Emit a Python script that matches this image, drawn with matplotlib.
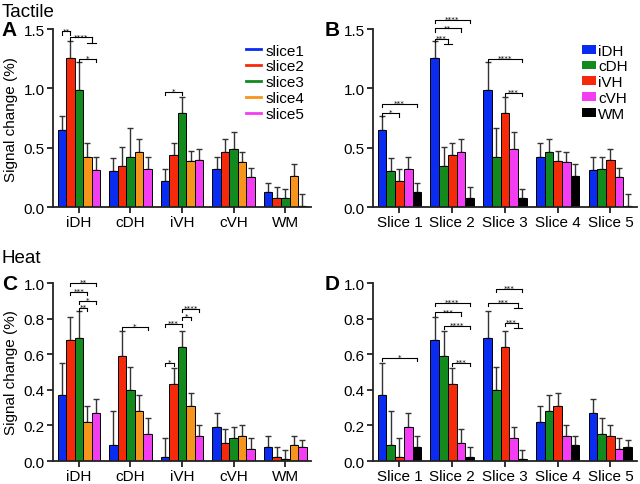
import matplotlib
matplotlib.use('Agg')
import matplotlib.pyplot as plt
from matplotlib.lines import Line2D
from matplotlib.patches import Patch
import numpy as np

plt.rcParams['font.family'] = ['Liberation Sans', 'DejaVu Sans']

# Data: rows are regions, columns are slices
regions = ['iDH', 'cDH', 'iVH', 'cVH', 'WM']
slices = ['slice1', 'slice2', 'slice3', 'slice4', 'slice5']
slice_ticks = ['Slice 1', 'Slice 2', 'Slice 3', 'Slice 4', 'Slice 5']

tactile_mean = [[0.65, 1.26, 0.99, 0.42, 0.31],
                [0.30, 0.35, 0.42, 0.46, 0.32],
                [0.22, 0.44, 0.79, 0.39, 0.40],
                [0.32, 0.46, 0.49, 0.38, 0.25],
                [0.13, 0.08, 0.08, 0.26, 0.01]]
tactile_err = [[0.12, 0.14, 0.23, 0.12, 0.11],
               [0.11, 0.16, 0.25, 0.11, 0.10],
               [0.10, 0.10, 0.14, 0.08, 0.09],
               [0.10, 0.11, 0.14, 0.08, 0.08],
               [0.07, 0.09, 0.07, 0.10, 0.10]]
heat_mean = [[0.37, 0.68, 0.69, 0.22, 0.27],
             [0.09, 0.59, 0.40, 0.28, 0.15],
             [0.02, 0.43, 0.64, 0.31, 0.14],
             [0.19, 0.10, 0.13, 0.14, 0.07],
             [0.08, 0.02, 0.01, 0.09, 0.08]]
heat_err = [[0.18, 0.13, 0.15, 0.09, 0.08],
            [0.19, 0.14, 0.13, 0.09, 0.09],
            [0.11, 0.09, 0.09, 0.07, 0.06],
            [0.08, 0.08, 0.06, 0.06, 0.06],
            [0.06, 0.06, 0.05, 0.05, 0.04]]

slice_colors = ['#0a2cf0', '#f52a0a', '#138a1e', '#f7941d', '#f23df2']
region_colors = ['#0a2cf0', '#138a1e', '#f52a0a', '#f23df2', '#000000']

# significance brackets: (group, bar from, bar to, y, stars, tail)
brackets_a = [(0, 0, 1, 1.48, '**', False), (0, 1, 3.5, 1.43, '****', True),
              (0, 2, 4, 1.25, '*', False), (2, 0, 2, 0.97, '*', False)]
brackets_b = [(0, 0, 2, 0.79, '*', False), (0, 0, 4, 0.87, '***', False),
              (1, 0, 1.5, 1.42, '***', True), (1, 0, 3, 1.505, '**', False),
              (1, 0, 4, 1.58, '****', False), (2, 0, 4, 1.25, '****', False),
              (2, 2, 4, 0.96, '***', False)]
brackets_c = [(0, 1, 4, 1.0, '**', False), (0, 1, 3, 0.948, '***', False),
              (0, 2, 4, 0.90, '*', False), (0, 2, 3, 0.86, '**', False),
              (1, 1, 4, 0.755, '*', False), (2, 0, 1, 0.55, '*', False),
              (2, 0, 2, 0.77, '***', False), (2, 2, 3, 0.81, '*', False),
              (2, 2, 4, 0.855, '****', False)]
brackets_d = [(0, 0, 4, 0.58, '*', False), (1, 0, 4, 0.89, '****', False),
              (1, 0, 3, 0.835, '***', False), (1, 1, 4, 0.76, '****', False),
              (1, 2, 4, 0.55, '***', False), (2, 1, 4, 0.966, '***', False),
              (2, 0, 3.5, 0.89, '***', True), (2, 2, 3.5, 0.775, '***', True)]

BAR_W = 0.165
FS = 11


def draw_bars(ax, mean, err, colors, transpose=False):
    m = np.array(mean)
    e = np.array(err)
    if transpose:
        m = m.T
        e = e.T
    # m[group][series] -> plot series across groups
    x = np.arange(5)
    for s in range(5):
        xs = x + (s - 2) * BAR_W
        vals = m[:, s]
        errs = e[:, s]
        ax.errorbar(xs, vals, yerr=[np.zeros(5), errs], fmt='none',
                    ecolor='#333333', elinewidth=1.0, capsize=2.5,
                    capthick=1.0, zorder=1)
        ax.bar(xs, vals, BAR_W, color=colors[s], edgecolor='black',
               linewidth=0.7, zorder=2)


def draw_brackets(ax, brackets, ytop):
    leg = 0.018 * ytop
    for g, i, j, y, lab, tail in brackets:
        x1 = g + (i - 2) * BAR_W
        x2 = g + (j - 2) * BAR_W
        kw = dict(color='black', lw=0.8, clip_on=False)
        ax.plot([x1, x1, x2], [y - leg, y, y], **kw)
        if tail:
            tl = 0.03 * ytop
            ax.plot([x2, x2], [y, y - tl], **kw)
            ax.plot([x2 - BAR_W * 0.5, x2 + BAR_W * 0.5],
                    [y - tl, y - tl], **kw)
        else:
            ax.plot([x2, x2], [y, y - leg], **kw)
        ax.text((x1 + x2) / 2, y - 0.005 * ytop, lab, ha='center',
                va='baseline', fontsize=5.2, family='DejaVu Sans')


def style_axis(ax, ytop, step, labels):
    ax.set_xlim(-0.5, 4.5)
    ax.set_ylim(0, ytop)
    ax.set_yticks(np.arange(0, ytop + 1e-9, step))
    ax.set_yticklabels(['%.1f' % v for v in np.arange(0, ytop + 1e-9, step)])
    ax.set_xticks(np.arange(5))
    ax.set_xticklabels(labels)
    for side in ['top', 'right']:
        ax.spines[side].set_visible(False)
    for side in ['left', 'bottom']:
        ax.spines[side].set_linewidth(1.3)
        ax.spines[side].set_color('#222222')
    ax.tick_params(axis='both', labelsize=FS, width=1.3, length=4,
                   color='#222222', pad=2)


fig = plt.figure(figsize=(6.4, 4.85), dpi=100)
ax_a = fig.add_axes([0.083, 0.571, 0.403, 0.367])
ax_b = fig.add_axes([0.583, 0.571, 0.412, 0.367])
ax_c = fig.add_axes([0.083, 0.0474, 0.403, 0.367])
ax_d = fig.add_axes([0.583, 0.0474, 0.412, 0.367])

draw_bars(ax_a, tactile_mean, tactile_err, slice_colors)
draw_bars(ax_b, tactile_mean, tactile_err, region_colors, transpose=True)
draw_bars(ax_c, heat_mean, heat_err, slice_colors)
draw_bars(ax_d, heat_mean, heat_err, region_colors, transpose=True)

style_axis(ax_a, 1.5, 0.5, regions)
style_axis(ax_b, 1.5, 0.5, slice_ticks)
style_axis(ax_c, 1.0, 0.2, regions)
style_axis(ax_d, 1.0, 0.2, slice_ticks)

draw_brackets(ax_a, brackets_a, 1.5)
draw_brackets(ax_b, brackets_b, 1.5)
draw_brackets(ax_c, brackets_c, 1.0)
draw_brackets(ax_d, brackets_d, 1.0)

ax_a.set_ylabel('Signal change (%)', fontsize=FS)
ax_c.set_ylabel('Signal change (%)', fontsize=FS)

h_a = [Line2D([0], [0], color=c, lw=2) for c in slice_colors]
ax_a.legend(h_a, slices, loc='upper right', bbox_to_anchor=(1.01, 0.97),
            frameon=False, fontsize=11, handlelength=1.0, handletextpad=0.3,
            labelspacing=0.12, borderaxespad=0.2)
h_b = [Patch(facecolor=c, edgecolor='none') for c in region_colors]
ax_b.legend(h_b, regions, loc='upper right', bbox_to_anchor=(1.0, 0.97),
            frameon=False, fontsize=11, handlelength=0.9, handleheight=0.5,
            handletextpad=0.15, labelspacing=0.12, borderaxespad=0.2)

fig.text(0.003, 0.975, 'Tactile', fontsize=13.5, va='center')
fig.text(0.003, 0.468, 'Heat', fontsize=13.5, va='center')
fig.text(0.003, 0.938, 'A', fontsize=15, fontweight='bold', va='center')
fig.text(0.508, 0.938, 'B', fontsize=15, fontweight='bold', va='center')
fig.text(0.003, 0.414, 'C', fontsize=15, fontweight='bold', va='center')
fig.text(0.508, 0.414, 'D', fontsize=15, fontweight='bold', va='center')

fig.savefig('out.png', dpi=100)
